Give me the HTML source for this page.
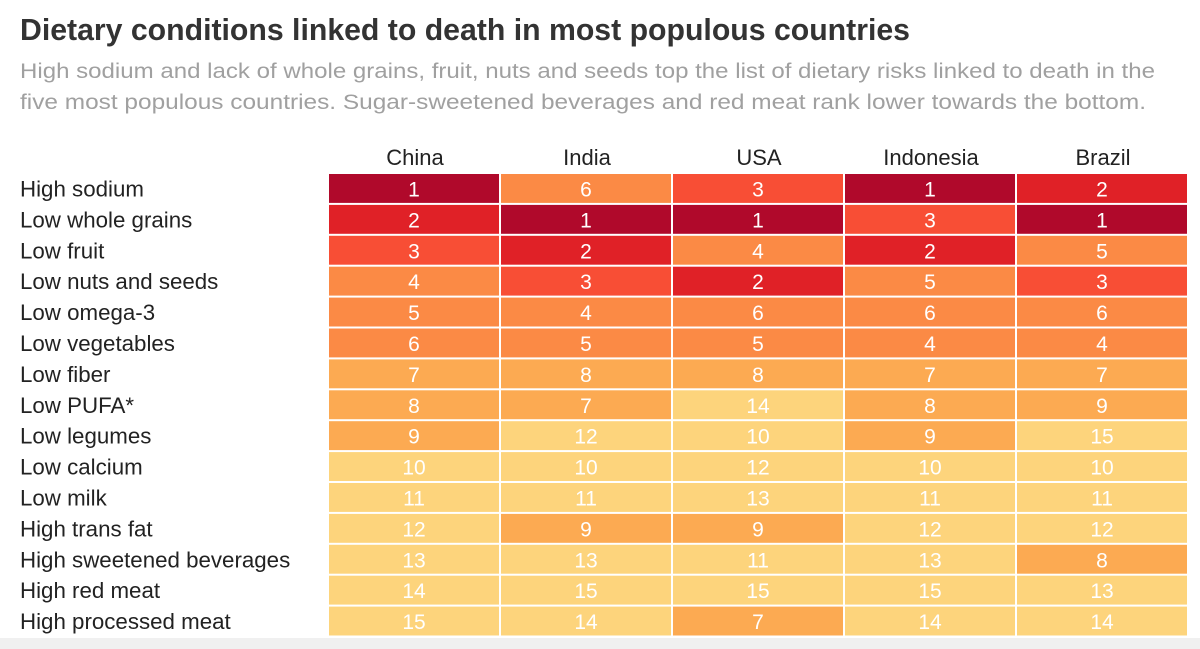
<!DOCTYPE html>
<html><head><meta charset="utf-8"><style>
html,body{margin:0;padding:0;background:#fff;}
svg{display:block;font-family:"Liberation Sans",sans-serif;}
</style></head><body>
<svg id="chart" width="1200" height="649" viewBox="0 0 1200 649">
<rect x="0" y="638" width="1200" height="11" fill="#f0f0f0"/>
<text x="20" y="40" font-size="31" font-weight="bold" fill="#333" textLength="890" lengthAdjust="spacingAndGlyphs">Dietary conditions linked to death in most populous countries</text>
<text x="20" y="78" font-size="21" fill="#a0a0a0" textLength="1135" lengthAdjust="spacingAndGlyphs">High sodium and lack of whole grains, fruit, nuts and seeds top the list of dietary risks linked to death in the</text>
<text x="20" y="109" font-size="21" fill="#a0a0a0" textLength="1126" lengthAdjust="spacingAndGlyphs">five most populous countries. Sugar-sweetened beverages and red meat rank lower towards the bottom.</text>
<g id="cells"></g>
</svg>
<script>
const countries=["China","India","USA","Indonesia","Brazil"];
const risks=["High sodium","Low whole grains","Low fruit","Low nuts and seeds","Low omega-3","Low vegetables","Low fiber","Low PUFA*","Low legumes","Low calcium","Low milk","High trans fat","High sweetened beverages","High red meat","High processed meat"];
const chinaRanks=[1,2,3,4,5,6,7,8,9,10,11,12,13,14,15];
const indiaRanks=[6,1,2,3,4,5,8,7,12,10,11,9,13,15,14];
const usaRanks=[3,1,4,2,6,5,8,14,10,12,13,9,11,15,7];
const indonesiaRanks=[1,3,2,5,6,4,7,8,9,10,11,12,13,15,14];
const brazilRanks=[2,1,5,3,6,4,7,9,15,10,11,12,8,13,14];
const series=[chinaRanks,indiaRanks,usaRanks,indonesiaRanks,brazilRanks];
function color(r){
  if(r===1)return"#b0092b"; if(r===2)return"#e02127"; if(r===3)return"#f84e35";
  if(r<=6)return"#fb8a45"; if(r<=9)return"#fcaa52"; return"#fdd47c";
}
const x0=329,colW=172,y0=174,rowH=30.9;
const xPos=i=>x0+i*colW, yPos=j=>y0+j*rowH;
const g=document.getElementById('cells');
const NS="http://www.w3.org/2000/svg";
countries.forEach((c,i)=>{
  const t=document.createElementNS(NS,'text');
  t.setAttribute('x',xPos(i)+colW/2);t.setAttribute('y',165);
  t.setAttribute('text-anchor','middle');t.setAttribute('font-size','22');t.setAttribute('fill','#222');
  t.textContent=c;
  
  
  g.appendChild(t);
});
risks.forEach((r,j)=>{
  const t=document.createElementNS(NS,'text');
  t.setAttribute('x',20);t.setAttribute('y',yPos(j)+rowH/2+7);
  t.setAttribute('font-size','22.3');t.setAttribute('fill','#222');
  t.textContent=r;
  
  
  g.appendChild(t);
});
series.forEach((vals,i)=>{
  vals.forEach((v,j)=>{
    const rc=document.createElementNS(NS,'rect');
    rc.setAttribute('x',xPos(i));rc.setAttribute('y',yPos(j));
    rc.setAttribute('width',colW-2);rc.setAttribute('height',rowH-2);
    rc.setAttribute('fill',color(v));
    
    
    g.appendChild(rc);
    const t=document.createElementNS(NS,'text');
    t.setAttribute('x',xPos(i)+(colW-2)/2);t.setAttribute('y',yPos(j)+rowH/2+7);
    t.setAttribute('text-anchor','middle');t.setAttribute('font-size','21');t.setAttribute('fill','#fff');
    t.textContent=v;
    
    
    g.appendChild(t);
  });
});
</script>
</body></html>
